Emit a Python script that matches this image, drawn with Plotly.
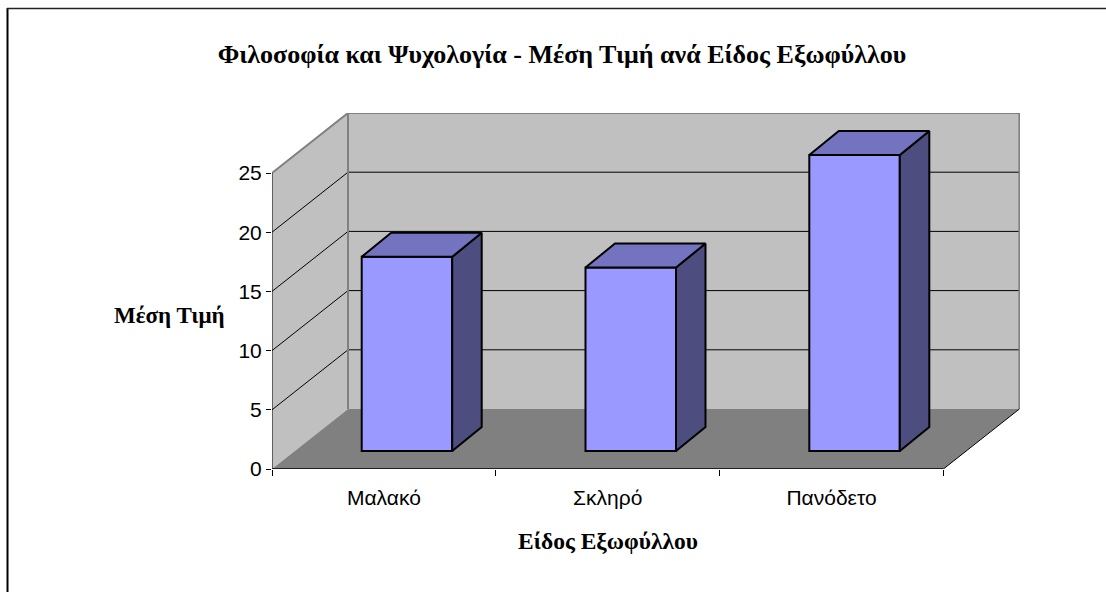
import plotly.graph_objects as go

title_text = "Φιλοσοφία και Ψυχολογία - Μέση Τιμή ανά Είδος Εξωφύλλου"
x_title_text = "Είδος Εξωφύλλου"
y_title_text = "Μέση Τιμή"
categories = ["Μαλακό", "Σκληρό", "Πανόδετο"]
values = [16.4, 15.5, 25.0]
y_ticks = [0, 5, 10, 15, 20, 25]

W, H = 1106, 592
L, R, T, B = 272, 1020, 113, 469      # plot rectangle in page pixels
CAT_PX = 223.8                        # width of one category
UNIT_PX = 296 / 25                    # pixels per y unit
n = len(categories)
y_max = y_ticks[-1]

# depth offsets in data units
dx = 76 / CAT_PX
dy = 60 / UNIT_PX
bar_dx = 29.5 / CAT_PX
bar_dy = 24 / UNIT_PX
bar_base = 18 / UNIT_PX
bar_w = 90.5 / CAT_PX
bar_shift = 0.603


def px(x):
    return (x - L) / (R - L)


def py(y):
    return (B - y) / (B - T)


def path(pts):
    return "M" + " L".join(f"{a},{b}" for a, b in pts) + " Z"


WALL = "#C0C0C0"
FLOOR = "#808080"
FRONT = "#9999FF"
TOP = "#7373BF"
SIDE = "#4D4D80"
EDGE = "#808080"

shapes = [
    dict(type="path", xref="x", yref="y", layer="below", line_width=0, fillcolor=WALL,
         path=path([(dx, dy), (n + dx, dy), (n + dx, dy + y_max), (dx, dy + y_max)])),
    dict(type="path", xref="x", yref="y", layer="below", line_width=0, fillcolor=WALL,
         path=path([(0, 0), (dx, dy), (dx, dy + y_max), (0, y_max)])),
    dict(type="path", xref="x", yref="y", layer="below", line_width=0, fillcolor=FLOOR,
         path=path([(0, 0), (n, 0), (n + dx, dy), (dx, dy)])),
]
for v in y_ticks[1:-1]:
    shapes.append(dict(type="line", xref="x", yref="y", layer="below", x0=0, y0=v, x1=dx, y1=v + dy,
                       line=dict(color="black", width=1)))
    shapes.append(dict(type="line", xref="x", yref="y", layer="below", x0=dx, y0=v + dy, x1=n + dx, y1=v + dy,
                       line=dict(color="black", width=1)))
# outer chart border (only its left and top sides reach the picture)
shapes.append(dict(type="line", xref="paper", yref="paper", x0=px(7.5), x1=px(7.5), y0=py(H), y1=py(8),
                   line=dict(color="black", width=2)))
shapes.append(dict(type="line", xref="paper", yref="paper", x0=px(7), x1=px(W), y0=py(8.5), y1=py(8.5),
                   line=dict(color="#222222", width=1.5)))

fig = go.Figure()

centers = [i + bar_shift for i in range(n)]
fig.add_trace(go.Bar(x=centers, y=values, base=bar_base, width=bar_w, hoverinfo="skip",
                     marker=dict(color=FRONT, line=dict(color="black", width=2))))


def line(xs, ys, color, width):
    fig.add_trace(go.Scatter(x=xs, y=ys, mode="lines", cliponaxis=False, hoverinfo="skip",
                             line=dict(color=color, width=width)))


# wall outline
line([0, dx, n + dx, n + dx], [y_max, dy + y_max, dy + y_max, dy], EDGE, 2)
line([dx, dx], [dy, dy + y_max], EDGE, 2)
# axis lines and floor edge
line([n, n + dx], [0, dy], "black", 1)
line([0, 0], [0, y_max], "black", 1)
line([0, n], [0, 0], "black", 1.5)

# side and top faces of each bar
for c, v in zip(centers, values):
    xl, xr = c - bar_w / 2, c + bar_w / 2
    yb, yt = bar_base, bar_base + v
    fig.add_trace(go.Scatter(x=[xr, xr + bar_dx, xr + bar_dx, xr, xr],
                             y=[yb, yb + bar_dy, yt + bar_dy, yt, yb],
                             mode="lines", fill="toself", fillcolor=SIDE, hoverinfo="skip",
                             line=dict(color="black", width=2)))
    fig.add_trace(go.Scatter(x=[xl, xr, xr + bar_dx, xl + bar_dx, xl],
                             y=[yt, yt, yt + bar_dy, yt + bar_dy, yt],
                             mode="lines", fill="toself", fillcolor=TOP, hoverinfo="skip",
                             line=dict(color="black", width=2)))

SANS = "Liberation Sans"
SERIF = "Liberation Serif"

fig.update_layout(
    width=W, height=H,
    margin=dict(l=L, r=W - R, t=T, b=H - B, pad=0),
    paper_bgcolor="white", plot_bgcolor="white",
    showlegend=False,
    title=dict(text=f"<b>{title_text}</b>", x=562 / W, y=1 - 54 / H, xanchor="center", yanchor="middle",
               font=dict(family=SERIF, size=26, color="black")),
    xaxis=dict(range=[0, (R - L) / CAT_PX], showgrid=False, zeroline=False, showline=False,
               tickmode="array", tickvals=[i + 0.5 for i in range(n)], ticktext=categories,
               ticks="outside", ticklen=10, tickcolor="rgba(0,0,0,0)",
               tickfont=dict(family=SANS, size=21, color="black"),
               minor=dict(tickmode="array", tickvals=list(range(n + 1)), ticks="outside", ticklen=6,
                          tickcolor="black", tickwidth=1, showgrid=False)),
    yaxis=dict(range=[0, (B - T) / UNIT_PX], showgrid=False, zeroline=False, showline=False,
               tickmode="array", tickvals=y_ticks, ticks="outside", ticklen=5, tickcolor="black",
               tickfont=dict(family=SANS, size=21, color="black")),
    shapes=shapes,
    annotations=[
        dict(text=f"<b>{y_title_text}</b>", xref="paper", yref="paper", x=px(169), y=py(315),
             xanchor="center", yanchor="middle", showarrow=False,
             font=dict(family=SERIF, size=23, color="black")),
        dict(text=f"<b>{x_title_text}</b>", xref="paper", yref="paper", x=px(607.5), y=py(541),
             xanchor="center", yanchor="middle", showarrow=False,
             font=dict(family=SERIF, size=23.5, color="black")),
    ],
)

fig.write_html("out.html", config={"displayModeBar": False},
               post_script="document.body.style.margin='0';document.body.style.overflow='hidden';")
